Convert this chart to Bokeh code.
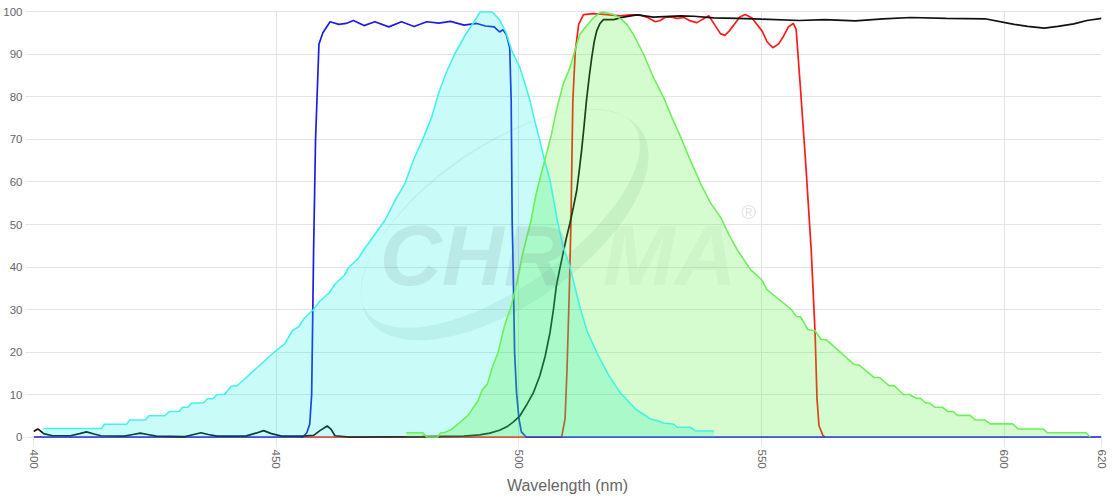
import math
import numpy as np
from bokeh.plotting import figure
from bokeh.models import FixedTicker, Range1d, Label
from bokeh.embed import file_html
from bokeh.resources import INLINE

# ---- data ----
# excitation spectrum (cyan, filled)
ex_wl = [402, 414, 414.6, 419.2, 419.8, 423, 423.8, 427, 428, 430, 430.7, 431.8, 432.6, 435,
         435.8, 437, 437.8, 439.3, 440.8, 441.9, 449.6, 451.8, 453.3, 454.7, 455.8, 457.7, 459,
         461, 462.1, 464, 465, 466.9, 468, 469.9, 472.4, 474.5, 476.5, 478.2, 480.1, 482, 483.4,
         484.9, 486.7, 489, 490.8, 492, 494.5, 496, 497.4, 498.5, 500.2, 501, 502.3, 503, 504.3,
         505.3, 506.4, 507.9, 509.1, 510.5, 512.5, 514, 516, 518.5, 520.8, 524, 527, 528.4,
         529.8, 531.9, 532.6, 535.3, 536.4, 540.2]
ex_val = [2, 2, 3, 3, 4, 4, 5, 5, 6, 6, 7, 7, 8, 8,
          9, 9, 10, 10, 12, 12, 20, 22, 25, 26, 28, 30, 32,
          34, 36, 38, 40, 42, 44, 47, 51, 55.7, 59.6, 65, 69.8, 75.2, 80.7,
          85.4, 90, 94.7, 97.8, 100, 100, 98.2, 95, 91, 86.9, 84, 79.1, 75.5, 69.8,
          65, 60.4, 51, 44.8, 40.1, 30.8, 25, 19.9, 14.5, 10.5, 6.6, 4.3, 3.9,
          3.3, 3.0, 2.3, 2.3, 1.4, 1.4]

# emission spectrum (green, filled)
em_wl = [476.8, 480.2, 481, 483.2, 483.9, 484.6, 486.1, 487.9, 489.5, 490.9, 491.6, 492.4, 493.5,
         494.6, 495.7, 497, 498.4, 499.4, 500.8, 502.5, 503.5, 504.6, 505.7, 506.7, 507.7, 509.1,
         510.5, 511.5, 512.5, 513.6, 515.3, 516.7, 517.4, 519.5, 521.2, 522.2, 523.6, 525.7,
         527.7, 529.8, 531.5, 533.3, 535.3, 537.4, 539.5, 541.5, 543.3, 545, 547.7, 550, 551.1,
         556.1, 557.2, 558, 559.5, 561, 562.2, 563.3, 569, 570.1, 573.2, 574.3, 576.2, 577.3,
         579.2, 580.4, 581.9, 582.7, 583.8, 584.6, 585.7, 587.2, 588.4, 589.5, 590.3, 592.9,
         594.1, 596, 597.1, 601.7, 602.8, 608.1, 608.8, 616.8, 617.7]
em_val = [1, 1, 0, 0, 1, 1, 1.8, 3.5, 5.1, 7.4, 8.6, 11, 12.5,
          16.7, 19.9, 26.1, 30.8, 35.5, 43.3, 51, 57, 62, 66.7, 71.3, 76.8, 83,
          86.9, 90.8, 94.7, 96.3, 98.6, 99.8, 100, 99.4, 98.2, 97.1, 94.7, 90,
          84.6, 79.9, 75.2, 70.6, 65.1, 59.7, 55, 51.8, 47.5, 44, 39.4, 37, 34.7,
          30, 28.3, 28.3, 25.3, 25, 23, 22.9, 17.1, 16.9, 14, 14, 12.1, 12.1,
          10, 10, 9.1, 9.1, 8, 8, 7, 7, 6, 6, 5.1, 5.1,
          4, 4, 3.1, 3.1, 1.9, 1.9, 1, 1, 0]

# excitation filter (blue)
bf_wl = [400, 455.5, 456.3, 456.9, 457.3, 457.7, 458.1, 458.8, 459.6, 461.1, 462.9, 464.4, 465.9,
         468.1, 470.3, 473.2, 475.8, 478.4, 481, 483.5, 485.9, 488.7, 491.3, 493.1, 494.9, 496,
         496.7, 497.4, 498.1, 498.4, 498.6, 498.8, 499.1, 499.5, 500, 500.5, 501.5, 620]
bf_val = [0, 0, 1, 3, 10, 44, 70, 92.4, 95.1, 97.7, 97.1, 97.3, 98,
          96.8, 97.7, 96.5, 97.7, 96.6, 97.7, 97.4, 97.8, 96.9, 97.3, 96.7, 96.5, 95.3,
          95.8, 94.7, 91.6, 79, 51, 40, 20, 10.5, 4.3, 1.2, 0, 0]

# emission filter (red)
rf_wl = [455, 508.8, 509.5, 509.9, 510.4, 510.7, 511.1, 511.6, 512.3, 513.3, 515.3, 518.1, 520.8,
         523, 525, 526.3, 528.1, 529.1, 530.2, 531.5, 532.6, 534, 535.3, 536.7, 537.7, 539.1,
         540.2, 541.5, 542.4, 543.3, 544.3, 545.5, 546.6, 548, 550.1, 551.1, 552.3, 553.5, 554.5,
         555.5, 556.5, 557.1, 557.9, 559.1, 560.2, 561, 561.4, 561.8, 562.6, 563]
rf_val = [0, 0, 4.3, 15.9, 35.5, 50, 79.1, 90.8, 97.1, 99.4, 99.6, 99.4, 99.1,
          99.3, 99.3, 98.8, 97.7, 98, 98.8, 98.8, 98.5, 98.7, 97.9, 97.5, 98.2, 99.1,
          97.2, 94.9, 94.5, 95.5, 97, 98.8, 99.4, 98.6, 95.5, 93, 91.6, 92.5, 94.3,
          96.5, 97.3, 95.9, 83.4, 63.9, 44, 24.5, 8.9, 2.7, 0.4, 0]

# dichroic (black)
dc_wl = [400, 400.9, 402.1, 403.9, 407.6, 409.5, 410.9, 412.5, 413.9, 418.7, 420.5, 422, 423.5,
         425.3, 431.2, 433, 434.5, 436, 437.8, 443.7, 445.8, 447.4, 449, 451.1, 455.5, 457.7,
         459, 460.5, 461.3, 462.1, 465.1, 480, 488.7, 491.9, 494, 496, 497.5, 498.8, 500.2,
         501.5, 503, 504.3, 505.4, 506.4, 507.1, 507.7, 508.4, 509.1, 509.8, 510.5, 511.2,
         511.9, 512.4, 512.9, 513.4, 513.9, 514.5, 515, 515.5, 516, 516.7, 517.4, 519.5, 521.5,
         524.3, 527.7, 533.3, 536, 540.1, 545, 550, 557.8, 563, 569.3, 575, 580.7, 588, 596, 602,
         604.8, 608.2, 611, 614.3, 617, 620]
dc_val = [1.3, 1.9, 0.8, 0.3, 0.3, 0.8, 1.2, 0.7, 0.3, 0.2, 0.6, 0.9, 0.6,
          0.2, 0.1, 0.6, 1.0, 0.6, 0.2, 0.2, 0.9, 1.5, 0.8, 0.2, 0.2, 0.4,
          1.5, 2.6, 1.8, 0.3, 0, 0.1, 0.2, 0.5, 0.9, 1.6, 2.4, 3.5, 5.0,
          7.4, 10.5, 14.4, 19, 24.6, 30, 35.5, 39.5, 43.3, 47, 50.3, 54,
          58, 62.5, 67.4, 73, 79.1, 85, 89.3, 93, 95.5, 97.3, 98.2, 98.2, 98.8,
          99.3, 98.8, 99.1, 99, 98.6, 98.5, 98.3, 98, 98.2, 97.9, 98.4, 98.7, 98.5, 98.4, 97.1,
          96.6, 96.2, 96.6, 97.2, 98, 98.5]

x_ticks = [400, 450, 500, 550, 600, 620]
y_ticks = list(range(0, 101, 10))

FONT = "Liberation Sans"
GRID = "#e4e4e4"
LABEL = "#666666"

p = figure(width=1112, height=496, x_range=Range1d(400, 620), y_range=Range1d(-0.35, 100.35),
           output_backend="svg", toolbar_location=None,
           min_border_left=10, min_border_right=11, min_border_top=10, min_border_bottom=2)
p.outline_line_color = None
p.background_fill_color = "white"

for ax in (p.xaxis, p.yaxis):
    ax.axis_line_color = None
    ax.major_tick_line_color = GRID
    ax.major_tick_in = 0
    ax.minor_tick_line_color = None
    ax.major_label_text_font = FONT
    ax.major_label_text_font_size = "11.5px"
    ax.major_label_text_color = LABEL
    ax.major_label_standoff = 3

p.yaxis.major_tick_out = 8
p.xaxis.major_tick_out = 8
p.xaxis.ticker = FixedTicker(ticks=x_ticks)
p.yaxis.ticker = FixedTicker(ticks=y_ticks)
p.xaxis.major_label_orientation = "vertical"
p.xaxis.axis_label = "Wavelength (nm)"
p.xaxis.axis_label_text_font = FONT
p.xaxis.axis_label_text_font_size = "16px"
p.xaxis.axis_label_text_font_style = "normal"
p.xaxis.axis_label_text_color = LABEL
p.xaxis.axis_label_standoff = 5

p.xgrid.ticker = FixedTicker(ticks=x_ticks)
p.ygrid.ticker = FixedTicker(ticks=y_ticks)
p.xgrid.grid_line_color = GRID
p.ygrid.grid_line_color = GRID

# ---- watermark (decorative swoosh + lettering) ----
PX_PER_NM, PX_PER_UNIT = 4.85, 4.26
wm_nm, wm_val = 497.1, 49.9
def _ellipse(cx, cy, a, b, ang, n=120):
    t = np.linspace(0, 2 * np.pi, n, endpoint=False)
    ca, sa = math.cos(ang), math.sin(ang)
    ex = a * np.cos(t) * ca - b * np.sin(t) * sa + cx
    ey = a * np.cos(t) * sa + b * np.sin(t) * ca + cy
    return list(wm_nm + ex / PX_PER_NM), list(wm_val + ey / PX_PER_UNIT)
ang = math.radians(35)
ox, oy = _ellipse(0, 0, 166, 80, ang)
ix, iy = _ellipse(-8 * math.sin(ang), 8 * math.cos(ang), 163, 70, ang)
p.multi_polygons(xs=[[[ox, ix[::-1]]]], ys=[[[oy, iy[::-1]]]], fill_color="#7f8f8f",
                 fill_alpha=0.13, line_color=None)

p.add_layout(Label(x=471.3, y=42.8, text="CHR", text_font=FONT, text_font_size="86px",
                   text_font_style="bold italic", text_color="#6f9090", text_alpha=0.17,
                   text_baseline="alphabetic"))
p.add_layout(Label(x=517.3, y=42.8, text="MA", text_font=FONT, text_font_size="86px",
                   text_font_style="bold italic", text_color="#8a9a9a", text_alpha=0.08,
                   text_baseline="alphabetic"))
p.add_layout(Label(x=545.8, y=53.0, text="®", text_font=FONT, text_font_size="20px",
                   text_color="#999999", text_alpha=0.3, text_baseline="alphabetic"))

# filter curves (beneath the filled spectra)
p.line(rf_wl, rf_val, line_color="#ff1a1a", line_width=1.7)
p.line(bf_wl, bf_val, line_color="#1c1ce8", line_width=1.7)
p.line(dc_wl, dc_val, line_color="#111111", line_width=1.7)

# spectra
p.varea(x=ex_wl, y1=[0] * len(ex_wl), y2=ex_val, fill_color="#00f0e0", fill_alpha=0.21)
p.varea(x=em_wl, y1=[0] * len(em_wl), y2=em_val, fill_color="#3cf01e", fill_alpha=0.22)
p.line(ex_wl, ex_val, line_color="#45f2ea", line_width=1.6)
p.line(em_wl, em_val, line_color="#6ef05a", line_width=1.6)

open("out.html", "w").write(file_html(p, INLINE))
